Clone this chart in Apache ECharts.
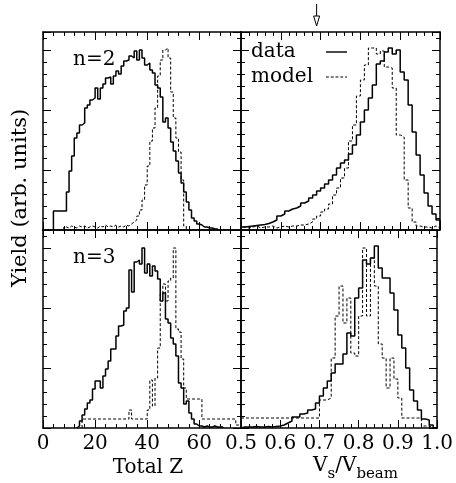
<!DOCTYPE html>
<html>
<head>
<meta charset="utf-8">
<script src="https://cdn.jsdelivr.net/npm/echarts@6/dist/echarts.min.js"></script>
<style>
  html, body { margin: 0; padding: 0; background: #fff; }
  #main { width: 456px; height: 483px; }
</style>
</head>
<body>
<div id="main"></div>
<script>
// ranges of the two x quantities and of the (arbitrary) yield
const zRange = { min: 0, max: 76, major: 20, minor: 4 };
const vRange = { min: 0.5, max: 1.0, major: 0.1, minor: 0.02 };
const yRange = { min: 0, max: 198, major: 60, minor: 12 };
const zBin = 1;
const vBin = 0.01;
const arrowAt = 0.69;

// n=2, Total Z
const n2ZStart = 4;
const n2ZData = [19, 19, 19, 19, 19, 38, 59, 74, 92, 97, 105, 107, 122, 125, 130, 132, 142, 131, 142, 146,
  152, 153, 146, 154, 159, 156, 164, 169, 170, 174, 172, 179, 170, 180, 172, 165, 167, 160, 157, 145,
  142, 133, 108, 112, 102, 88, 79, 69, 57, 47, 38, 28, 20, 12, 9, 6, 5, 3, 3, 2, 2, 1, 1];
const n2ZModelStart = 8;
const n2ZModel = [3, 2, 4, 3, 2, 4, 3, 4, 2, 3, 4, 3, 2, 4, 3, 5, 3, 4, 3, 5, 3, 4, 3, 5, 4, 6,
  8, 10, 14, 20, 30, 45, 64, 89, 102, 122, 154, 170, 180, 182, 172, 138, 112, 92, 78, 50, 4];

// n=2, Vs/Vbeam
const n2VStart = 0.5;
const n2VData = [3, 3.5, 4, 4.5, 5, 5.5, 6.5, 8, 10, 14, 16, 19, 21, 22, 24, 27, 29, 32, 35, 39,
  42, 46, 50, 55, 62, 67, 70, 76, 85, 95, 108, 120, 132, 145, 166, 169, 178, 182, 176, 180,
  158, 150, 125, 98, 75, 55, 37, 24, 16, 10];
const n2VModel = [3, 2, 3, 4, 2, 3, 3, 4, 2, 3, 4, 3, 4, 4, 5, 5, 6, 8, 11, 14,
  18, 21, 26, 35, 42, 52, 62, 89, 105, 134, 150, 165, 182, 182, 176, 179, 163, 162, 142, 95,
  93, 50, 22, 8, 4, 3, 3, 2, 4, 2];

// n=3, Total Z
const n3ZStart = 13;
const n3ZData = [2, 7, 13, 19, 25, 28, 39, 47, 47, 40, 52, 59, 67, 79, 79, 92, 102, 103, 117, 120,
  158, 136, 166, 168, 164, 180, 155, 164, 152, 162, 157, 149, 127, 135, 109, 105, 90, 84, 72, 45,
  40, 24, 27, 15, 9, 4, 2, 2, 1, 2, 1, 1, 2, 1, 1, 1];
const n3ZModelStart = 15;
const n3ZModel = [9, 9, 9, 9, 9, 9, 9, 9, 9, 9, 9, 9, 9, 9, 9, 9, 9, 9, 18, 9, 9, 9, 9, 9, 9,
  18, 48, 22, 50, 80, 134, 144, 127, 147, 150, 180, 99, 96, 69, 40, 29, 29, 29, 29, 29, 29,
  9, 9, 9, 9, 9, 9, 9, 9, 9, 9, 9, 9, 9, 3, 4, 2];

// n=3, Vs/Vbeam
const n3VStart = 0.5;
const n3VData = [1, 1, 1, 1.5, 1, 1, 1.5, 1, 1.5, 2, 3, 5, 7, 11, 11, 14, 15, 18, 19, 25,
  32, 40, 47, 55, 64, 64, 74, 95, 92, 130, 140, 168, 164, 170, 182, 160, 150, 150, 135, 118,
  93, 80, 60, 38, 27, 18, 9, 8, 3, 0];
const n3VModel = [10, 10, 10, 10, 10, 10, 10, 10, 10, 10, 10, 10, 10, 10, 10, 10, 10, 10, 10, 10,
  28, 28, 30, 70, 112, 142, 105, 130, 75, 72, 112, 180, 112, 170, 142, 84, 70, 40, 70, 49,
  30, 10, 10, 10, 10, 10, 2, 2, 0, 0];

const font = 'DejaVu Serif';

// histogram outline: left edge of each bin, closed down to zero at both ends
function steps(start, width, vals) {
  const pts = [[start, 0]];
  vals.forEach((v, i) => pts.push([+(start + i * width).toFixed(4), v]));
  pts.push([+(start + vals.length * width).toFixed(4), 0]);
  return pts;
}

function axis(gridIndex, r, position, step, len, extra) {
  return Object.assign({
    type: 'value', gridIndex, position, min: r.min, max: r.max, interval: step,
    axisLine: { show: len > 5, onZero: false, lineStyle: { color: '#000', width: 1.5 } },
    axisTick: { show: true, inside: true, length: len, lineStyle: { color: '#000', width: 1 } },
    axisLabel: { show: false },
    splitLine: { show: false }
  }, extra || {});
}

const labelStyle = { show: true, fontFamily: font, fontSize: 20, color: '#000', margin: 6 };

const panels = [
  { r: zRange, data: steps(n2ZStart, zBin, n2ZData), model: steps(n2ZModelStart, zBin, n2ZModel) },
  { r: vRange, data: steps(n2VStart, vBin, n2VData), model: steps(n2VStart, vBin, n2VModel) },
  { r: zRange, data: steps(n3ZStart, zBin, n3ZData), model: steps(n3ZModelStart, zBin, n3ZModel) },
  { r: vRange, data: steps(n3VStart, vBin, n3VData), model: steps(n3VStart, vBin, n3VModel) }
];

const xAxes = [], yAxes = [], series = [];
panels.forEach((p, g) => {
  let bottomExtra = {};
  if (g === 2) {
    bottomExtra = {
      axisLabel: Object.assign({ showMaxLabel: false }, labelStyle),
      name: 'Total Z', nameLocation: 'middle', nameGap: 30,
      nameTextStyle: { fontFamily: font, fontSize: 20, color: '#000', padding: [0, 0, 0, 12] }
    };
  } else if (g === 3) {
    bottomExtra = {
      axisLabel: Object.assign({ formatter: v => v.toFixed(1) }, labelStyle),
      name: '{v|V}{s|s}{v|/V}{s|beam}', nameLocation: 'middle', nameGap: 28,
      nameTextStyle: {
        color: '#000', padding: [0, 0, 0, 33],
        rich: {
          v: { fontFamily: font, fontSize: 20, lineHeight: 22, verticalAlign: 'top', color: '#000' },
          s: { fontFamily: font, fontSize: 15, lineHeight: 15, verticalAlign: 'top', padding: [11, 0, 0, 0], color: '#000' }
        }
      }
    };
  }
  xAxes.push(
    axis(g, p.r, 'bottom', p.r.major, 8, bottomExtra),
    axis(g, p.r, 'bottom', p.r.minor, 4),
    axis(g, p.r, 'top', p.r.major, 8),
    axis(g, p.r, 'top', p.r.minor, 4)
  );
  yAxes.push(
    axis(g, yRange, 'left', yRange.major, 8),
    axis(g, yRange, 'left', yRange.minor, 4),
    axis(g, yRange, 'right', yRange.major, 8),
    axis(g, yRange, 'right', yRange.minor, 4)
  );
  series.push(
    {
      name: 'data', type: 'line', step: 'end', data: p.data, symbol: 'none',
      xAxisIndex: g * 4, yAxisIndex: g * 4,
      lineStyle: { color: '#000', width: 1.5 }, itemStyle: { color: '#000' }
    },
    {
      name: 'model', type: 'line', step: 'end', data: p.model, symbol: 'none',
      xAxisIndex: g * 4, yAxisIndex: g * 4,
      lineStyle: { color: '#000', width: 1, type: [3, 2] }, itemStyle: { color: '#000' }
    }
  );
});

const chart = echarts.init(document.getElementById('main'), null, { renderer: 'canvas' });
chart.setOption({
  animation: false,
  backgroundColor: '#fff',
  grid: [
    { left: 43, top: 32, width: 198, height: 198 },
    { left: 241, top: 32, width: 199, height: 198 },
    { left: 43, top: 230, width: 198, height: 198 },
    { left: 241, top: 230, width: 199, height: 198 }
  ],
  xAxis: xAxes,
  yAxis: yAxes,
  legend: {
    data: [
      { name: 'data', icon: 'path://M0,0h22v1.5h-22z' },
      { name: 'model', icon: 'path://M0,0h3v1h-3zM5,0h3v1h-3zM10,0h3v1h-3zM15,0h3v1h-3zM20,0h2v1h-2z' }
    ],
    orient: 'vertical', left: 246, top: 37,
    align: 'right', itemWidth: 21, itemHeight: 1.5, itemGap: 5,
    itemStyle: { color: '#000' },
    formatter: name => '{t|' + name + '}',
    textStyle: {
      color: '#000',
      rich: { t: { fontFamily: font, fontSize: 20, width: 70, align: 'left', lineHeight: 20, color: '#000' } }
    }
  },
  graphic: [
    {
      id: 'ytitle', type: 'text', x: 21, y: 198, rotation: Math.PI / 2,
      style: { text: 'Yield (arb. units)', font: '21px "DejaVu Serif"', fill: '#000', align: 'center', verticalAlign: 'middle' }
    },
    {
      id: 'n2', type: 'text', x: 73, y: 60,
      style: { text: 'n=2', font: '20px "DejaVu Serif"', fill: '#000', align: 'left', verticalAlign: 'middle' }
    },
    {
      id: 'n3', type: 'text', x: 73, y: 258,
      style: { text: 'n=3', font: '20px "DejaVu Serif"', fill: '#000', align: 'left', verticalAlign: 'middle' }
    }
  ],
  series: series
});

// arrow above the top right panel marking Vs/Vbeam = arrowAt
const ax = chart.convertToPixel({ xAxisIndex: 4 }, arrowAt);
chart.setOption({
  graphic: [
    { id: 'arrowShaft', type: 'line', shape: { x1: ax, y1: 4, x2: ax, y2: 17 }, style: { stroke: '#000', lineWidth: 1 } },
    { id: 'arrowHead', type: 'polygon', shape: { points: [[ax - 3, 16], [ax + 3, 16], [ax, 26]] }, style: { stroke: '#000', fill: '#fff', lineWidth: 1 } }
  ]
});
</script>
</body>
</html>
